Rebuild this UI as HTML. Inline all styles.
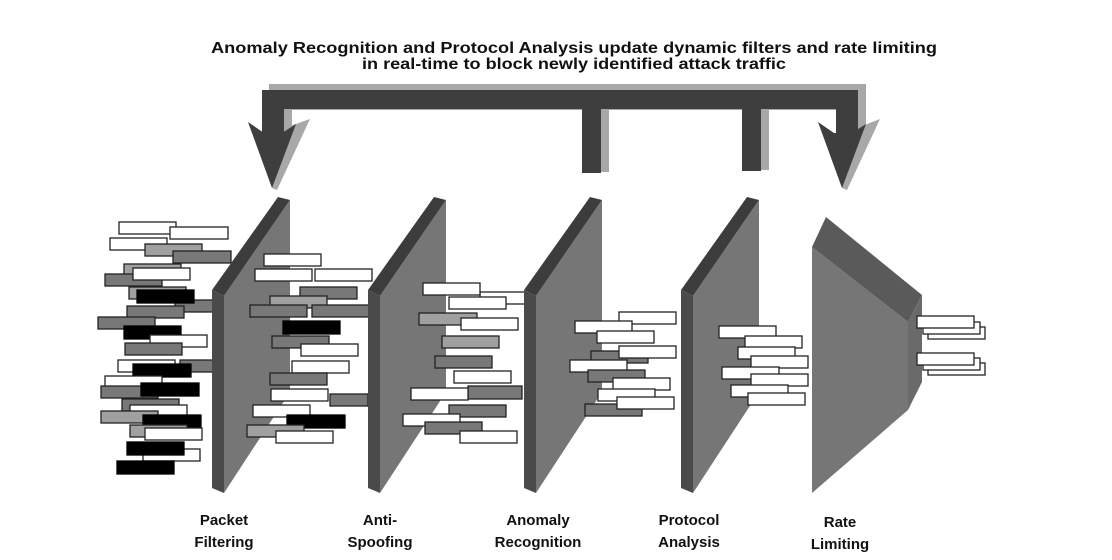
<!DOCTYPE html>
<html><head><meta charset="utf-8"><style>
html,body{margin:0;padding:0;background:#fff}
svg{display:block}
text{font-family:"Liberation Sans",sans-serif;font-weight:bold;font-size:15px;fill:#111;text-anchor:middle}
.t{font-size:16px}
.w{fill:#fff;stroke:#222;stroke-width:1.3}
.g{fill:#a0a0a0;stroke:#222;stroke-width:1.3}
.d{fill:#787878;stroke:#222;stroke-width:1.3}
.k{fill:#000;stroke:#000;stroke-width:1.3}
</style></head><body>
<svg width="1112" height="560" viewBox="0 0 1112 560">
<text class="t" x="574" y="53" textLength="726" lengthAdjust="spacingAndGlyphs">Anomaly Recognition and Protocol Analysis update dynamic filters and rate limiting</text>
<text class="t" x="574" y="69" textLength="424" lengthAdjust="spacingAndGlyphs">in real-time to block newly identified attack traffic</text>

<!-- feedback arrow: light shadow -->
<g fill="#a8a8a8">
<polygon points="269,84 866,84 866,140 843,140 843,110 292,110 292,135 269,135"/>
<rect x="589" y="108" width="20" height="64"/>
<rect x="749" y="108" width="20" height="62"/>
<polygon points="290,126 310,119 277,190 272,188"/>
<polygon points="862,126 880,119 847,190 842,188"/>
</g>
<g fill="#3e3e3e">
<polygon points="262,90 858,90 858,135 836,135 836,109 284,109 284,135 262,135"/>
<rect x="582" y="109" width="19" height="64"/>
<rect x="742" y="109" width="19" height="62"/>
<polygon points="248,122 264,133 282,133 296,124 272,188"/>
<polygon points="818,122 834,133 852,133 866,124 842,188"/>
</g>

<!-- cluster 0 -->
<g>
<rect class="d" x="175" y="300" width="50" height="12"/>
<rect class="d" x="180" y="360" width="45" height="12"/>
<rect class="w" x="119" y="222" width="57" height="12"/>
<rect class="w" x="170" y="227" width="58" height="12"/>
<rect class="w" x="110" y="238" width="57" height="12"/>
<rect class="g" x="145" y="244" width="57" height="12"/>
<rect class="d" x="173" y="251" width="58" height="12"/>
<rect class="g" x="124" y="264" width="57" height="12"/>
<rect class="d" x="105" y="274" width="57" height="12"/>
<rect class="w" x="133" y="268" width="57" height="12"/>
<rect class="g" x="129" y="287" width="57" height="12"/>
<rect class="k" x="137" y="290" width="57" height="13"/>
<rect class="d" x="127" y="306" width="57" height="12"/>
<rect class="d" x="98" y="317" width="57" height="12"/>
<rect class="k" x="124" y="326" width="57" height="13"/>
<rect class="w" x="150" y="335" width="57" height="12"/>
<rect class="d" x="125" y="343" width="57" height="12"/>
<rect class="w" x="118" y="360" width="57" height="12"/>
<rect class="k" x="133" y="364" width="58" height="13"/>
<rect class="w" x="105" y="376" width="57" height="12"/>
<rect class="d" x="101" y="386" width="57" height="12"/>
<rect class="k" x="141" y="383" width="58" height="13"/>
<rect class="d" x="122" y="399" width="57" height="12"/>
<rect class="w" x="130" y="405" width="57" height="12"/>
<rect class="g" x="101" y="411" width="57" height="12"/>
<rect class="k" x="143" y="415" width="58" height="13"/>
<rect class="g" x="130" y="425" width="57" height="12"/>
<rect class="w" x="145" y="428" width="57" height="12"/>
<rect class="w" x="143" y="449" width="57" height="12"/>
<rect class="k" x="127" y="442" width="57" height="13"/>
<rect class="k" x="117" y="461" width="57" height="13"/>
</g>

<g>
<polygon fill="#3c3c3c" points="212,290 278,197 290,200 224,296"/>
<polygon fill="#4a4a4a" points="212,290 224,296 224,493 212,488"/>
<polygon fill="#767676" points="224,296 290,200 290,392 224,493"/>
</g>
<g>
<rect class="w" x="264" y="254" width="57" height="12"/>
<rect class="w" x="255" y="269" width="57" height="12"/>
<rect class="w" x="315" y="269" width="57" height="12"/>
<rect class="d" x="300" y="287" width="57" height="12"/>
<rect class="g" x="270" y="296" width="57" height="12"/>
<rect class="d" x="250" y="305" width="57" height="12"/>
<rect class="d" x="312" y="305" width="57" height="12"/>
<rect class="k" x="283" y="321" width="57" height="13"/>
<rect class="d" x="272" y="336" width="57" height="12"/>
<rect class="w" x="301" y="344" width="57" height="12"/>
<rect class="w" x="292" y="361" width="57" height="12"/>
<rect class="d" x="270" y="373" width="57" height="12"/>
<rect class="d" x="330" y="394" width="38" height="12"/>
<rect class="w" x="271" y="389" width="57" height="12"/>
<rect class="w" x="253" y="405" width="57" height="12"/>
<rect class="k" x="287" y="415" width="58" height="13"/>
<rect class="g" x="247" y="425" width="57" height="12"/>
<rect class="w" x="276" y="431" width="57" height="12"/>
</g>
<g transform="translate(156,0)">
<polygon fill="#3c3c3c" points="212,290 278,197 290,200 224,296"/>
<polygon fill="#4a4a4a" points="212,290 224,296 224,493 212,488"/>
<polygon fill="#767676" points="224,296 290,200 290,392 224,493"/>
</g>
<g>
<rect class="w" x="480" y="292" width="45" height="12"/>
<rect class="w" x="423" y="283" width="57" height="12"/>
<rect class="w" x="449" y="297" width="57" height="12"/>
<rect class="g" x="419" y="313" width="58" height="12"/>
<rect class="w" x="461" y="318" width="57" height="12"/>
<rect class="g" x="442" y="336" width="57" height="12"/>
<rect class="d" x="435" y="356" width="57" height="12"/>
<rect class="w" x="454" y="371" width="57" height="12"/>
<rect class="d" x="468" y="386" width="54" height="13"/>
<rect class="w" x="411" y="388" width="57" height="12"/>
<rect class="d" x="449" y="405" width="57" height="12"/>
<rect class="w" x="403" y="414" width="57" height="12"/>
<rect class="d" x="425" y="422" width="57" height="12"/>
<rect class="w" x="460" y="431" width="57" height="12"/>
</g>
<g transform="translate(312,0)">
<polygon fill="#3c3c3c" points="212,290 278,197 290,200 224,296"/>
<polygon fill="#4a4a4a" points="212,290 224,296 224,493 212,488"/>
<polygon fill="#767676" points="224,296 290,200 290,392 224,493"/>
</g>
<g>
<rect class="w" x="619" y="312" width="57" height="12"/>
<rect class="w" x="575" y="321" width="57" height="12"/>
<rect class="w" x="597" y="331" width="57" height="12"/>
<rect class="d" x="591" y="351" width="57" height="12"/>
<rect class="w" x="619" y="346" width="57" height="12"/>
<rect class="w" x="570" y="360" width="57" height="12"/>
<rect class="d" x="588" y="370" width="57" height="12"/>
<rect class="w" x="613" y="378" width="57" height="12"/>
<rect class="w" x="598" y="389" width="57" height="12"/>
<rect class="d" x="585" y="404" width="57" height="12"/>
<rect class="w" x="617" y="397" width="57" height="12"/>
</g>
<g transform="translate(469,0)">
<polygon fill="#3c3c3c" points="212,290 278,197 290,200 224,296"/>
<polygon fill="#4a4a4a" points="212,290 224,296 224,493 212,488"/>
<polygon fill="#767676" points="224,296 290,200 290,392 224,493"/>
</g>
<g>
<rect class="w" x="719" y="326" width="57" height="12"/>
<rect class="w" x="745" y="336" width="57" height="12"/>
<rect class="w" x="738" y="347" width="57" height="12"/>
<rect class="w" x="751" y="356" width="57" height="12"/>
<rect class="w" x="722" y="367" width="57" height="12"/>
<rect class="w" x="751" y="374" width="57" height="12"/>
<rect class="w" x="731" y="385" width="57" height="12"/>
<rect class="w" x="748" y="393" width="57" height="12"/>
</g>
<!-- rate limiter -->
<polygon fill="#767676" points="812,247 908,322 908,410 812,493"/>
<polygon fill="#5a5a5a" points="812,247 826,217 922,295 908,322"/>
<polygon fill="#6a6a6a" points="908,322 922,295 922,382 908,410"/>
<g>
<rect class="w" x="928" y="327" width="57" height="12"/>
<rect class="w" x="923" y="322" width="57" height="12"/>
<rect class="w" x="917" y="316" width="57" height="12"/>
<rect class="w" x="928" y="363" width="57" height="12"/>
<rect class="w" x="923" y="358" width="57" height="12"/>
<rect class="w" x="917" y="353" width="57" height="12"/>
</g>

<text x="224" y="525">Packet</text><text x="224" y="547">Filtering</text>
<text x="380" y="525">Anti-</text><text x="380" y="547">Spoofing</text>
<text x="538" y="525">Anomaly</text><text x="538" y="547">Recognition</text>
<text x="689" y="525">Protocol</text><text x="689" y="547">Analysis</text>
<text x="840" y="527">Rate</text><text x="840" y="549">Limiting</text>
</svg>
</body></html>
